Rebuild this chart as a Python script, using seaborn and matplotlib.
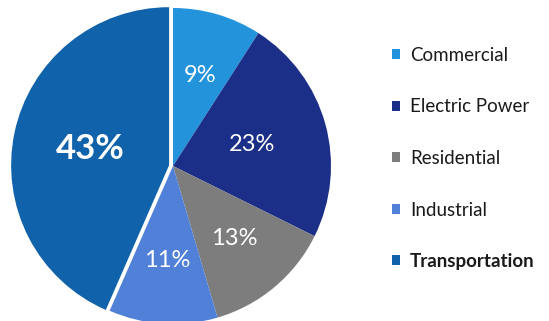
import matplotlib
matplotlib.use("Agg")
import matplotlib.pyplot as plt
import seaborn as sns

categories = ["Commercial", "Electric Power", "Residential", "Industrial", "Transportation"]
shares = [9, 23, 13, 11, 43]
colors = ["#2393dc", "#1c2f88", "#7d7d7d", "#5080d8", "#1062ab"]
explode = [0, 0, 0, 0, 0.025]

sns.set_theme(style="white")
plt.rcParams['font.family'] = ['Lato', 'DejaVu Sans']

fig = plt.figure(figsize=(5.49, 3.21), dpi=100)
ax = fig.add_axes([0, 0, 1, 1])
scale = 158.0
xmin = -173 / scale
ymin = -155 / scale

wedges, texts, autotexts = ax.pie(
    shares, colors=colors, explode=explode, startangle=90, counterclock=False,
    autopct=lambda p: f"{round(p * sum(shares) / 100):d}%", pctdistance=0.6,
    wedgeprops=dict(linewidth=0), textprops=dict(color="white", fontsize=17),
    normalize=True, frame=False)
ax.set_xlim(xmin, xmin + 549 / scale)
ax.set_ylim(ymin, ymin + 321 / scale)
ax.set_aspect('equal')
ax.axis('off')
for i, t in enumerate(autotexts):
    if shares[i] > 20:
        x, y = t.get_position()
        t.set_position((x * 0.86, y * 0.86))
    if categories[i] == "Transportation":
        t.set_fontsize(25)
        t.set_fontweight("bold")

leg = ax.legend(wedges, categories, loc="upper left", bbox_to_anchor=(392 / 549, 1 - 47 / 321),
                bbox_transform=fig.transFigure, frameon=False, fontsize=13.5,
                handlelength=0.45, handleheight=0.45, handletextpad=0.5, labelspacing=1.84,
                borderaxespad=0, borderpad=0)
for t in leg.get_texts():
    t.set_color("#1a1a1a")
    if t.get_text() == "Transportation":
        t.set_fontweight("bold")

fig.savefig("out.png", dpi=100)
